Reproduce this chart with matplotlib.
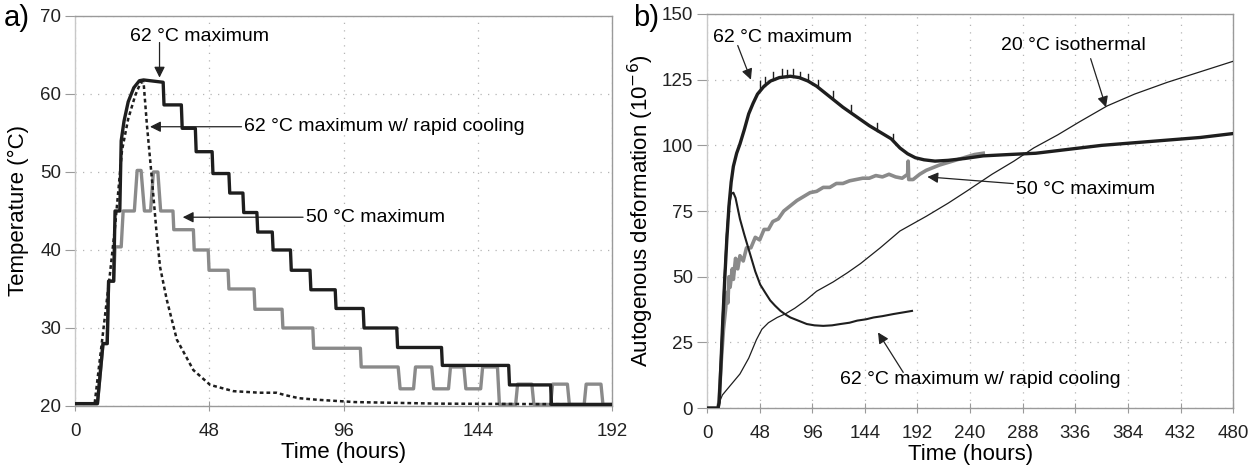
import numpy as np
import matplotlib
matplotlib.use("Agg")
import matplotlib.pyplot as plt

plt.rcParams['font.family'] = ['Liberation Sans', 'DejaVu Sans']

# ---- panel a) temperature histories (time h, temperature C) ----
temp_62 = [(0, 20.3), (8, 20.3), (10, 28), (11.5, 28), (12, 36), (13.8, 36), (14.3, 45), (16.0, 45),
           (16.5, 54), (17.5, 56.5), (19, 59), (21, 60.8), (23, 61.7), (24.5, 61.8), (31.5, 61.5),
           (31.8, 58.6), (38, 58.6), (38.3, 55.6), (43, 55.6), (43.3, 52.6), (49, 52.6), (49.3, 49.8),
           (55, 49.8), (55.3, 47.3), (60, 47.3), (60.3, 44.8), (65, 44.8), (65.3, 42.3), (70.5, 42.3),
           (70.8, 40), (77, 40), (77.3, 37.4), (84, 37.4), (84.3, 34.9), (93, 34.9), (93.3, 32.5),
           (103, 32.5), (103.3, 30), (115, 30), (115.3, 27.5), (131, 27.5), (131.3, 25.2), (155, 25.2),
           (155.3, 22.7), (170, 22.7), (170.3, 20.2), (192, 20.2)]

temp_62_rapid = [(0, 20.3), (7, 20.3), (9.7, 28.5), (12.5, 37), (14.3, 43), (16.8, 52.8), (19, 56.8),
                 (21.5, 59.8), (23.5, 61.5), (24.5, 61.5), (25.7, 56), (27.4, 49.4), (29.2, 42),
                 (30.4, 37.8), (32.8, 33.6), (36.4, 28.5), (42.3, 24.6), (48.3, 22.7), (56.6, 21.9),
                 (66, 21.7), (72, 21.7), (75, 21.4), (80, 21.0), (86.5, 20.8), (100, 20.5), (130, 20.3),
                 (192, 20.2)]

temp_50 = [(0, 20.3), (8, 20.3), (10, 28), (11.5, 28), (12, 36), (13.8, 36), (14.3, 40.4), (16.5, 40.4),
           (17.2, 45), (21.2, 45), (22.2, 50.2), (23.6, 50.2), (24.8, 45), (27.0, 45), (28.0, 50),
           (29.6, 50), (30.6, 45), (35, 45), (35.3, 42.6), (42.3, 42.6), (42.6, 40), (47.6, 40),
           (47.9, 37.4), (54.7, 37.4), (55, 35), (64, 35), (64.3, 32.4), (74, 32.4), (74.3, 30), (85, 30),
           (85.3, 27.4), (102, 27.4), (102.3, 25), (115.5, 25), (116.2, 22.2), (121, 22.2), (121.7, 25),
           (127.5, 25), (128.2, 22.2), (133.5, 22.2), (134.2, 25), (139, 25), (139.7, 22.2), (145, 22.2),
           (145.7, 25), (151, 25), (151.7, 20.2), (157.5, 20.2), (158.2, 22.8), (163.3, 22.8), (164, 20.2),
           (170, 20.2), (170.7, 22.8), (176, 22.8), (176.7, 20.2), (182, 20.2), (182.7, 22.8), (188, 22.8),
           (188.7, 20.2), (192, 20.2)]

# ---- panel b) autogenous deformation (time h, 1e-6) ----
def_62 = [(0, 0), (10, 0), (11, 2), (12.5, 15), (14, 30), (16, 48), (18, 64), (20, 77), (22, 86), (24, 92),
          (27, 97), (30, 100.5), (34, 106), (38, 112), (42, 116), (46, 119.5), (52, 122.5), (58, 124.5),
          (66, 125.8), (76, 126.3), (84, 125.8), (92, 124.5), (100, 122.5), (112, 118.5), (124, 114.5),
          (136, 111), (148, 107.5), (160, 104.5), (168, 102.5), (176, 99), (183, 96.8), (190, 95.3),
          (198, 94.5), (208, 94), (220, 94.3), (235, 95), (252, 96), (275, 96.5), (300, 97), (330, 98.5),
          (360, 100), (390, 101), (420, 102), (450, 103), (480, 104.5)]
# short upward spikes on the 62 C curve: (time, bottom, top)
def_62_spikes = [(48.5, 121, 124.5), (53, 122.7, 126), (60.4, 124.8, 128), (68.6, 125.9, 129),
                 (73, 126.2, 128.5), (78.6, 126.2, 129), (85, 125.7, 128), (92, 124.5, 127),
                 (101, 122.3, 125), (115, 117.5, 120.5), (131, 112.5, 115.5), (155.4, 105.5, 108.5),
                 (170, 101.8, 104.5)]

def_50 = [(0, 0), (10, 0), (11, 3), (13, 18), (15, 30), (17, 38), (18, 44), (19, 40), (20, 50), (21, 46),
          (23, 53), (24, 49), (26, 57), (28, 53), (30, 58), (33, 56), (36, 61), (40, 61), (44, 65), (48, 64),
          (52, 68), (56, 68), (60, 71), (65, 72), (70, 75), (76, 77), (82, 79), (88, 80.5), (94, 82),
          (100, 82.5), (106, 84), (112, 84), (118, 85.5), (124, 85.5), (130, 86.5), (136, 87), (142, 87.5),
          (148, 87.5), (154, 88.5), (160, 88), (166, 89), (172, 88), (178, 87.5), (183, 89), (183.5, 94),
          (184, 87), (188, 87), (194, 89), (200, 90.5), (206, 91.5), (212, 92.5), (220, 93.5), (228, 94.5),
          (236, 95.5), (244, 96.5), (252, 97)]

def_62_rapid = [(0, 0), (10, 0), (11, 2), (12.5, 15), (14, 32), (16, 50), (18, 66), (20, 77), (22, 81.5),
                (24, 82), (26, 80), (28, 76), (30, 72), (34, 66), (39, 59), (44, 52), (48.5, 47), (53, 44),
                (57.6, 41), (62, 39), (67, 37), (72, 35.5), (76, 34.5), (82, 33.5), (91, 32), (98, 31.5),
                (106, 31.3), (114, 31.5), (121.6, 32), (130, 32.5), (137, 33.3), (145, 33.8), (152, 34.5),
                (160, 35), (170, 35.8), (180, 36.5), (187, 37)]

def_20_iso = [(0, 0), (10, 0), (11, 2), (14, 5), (20, 8), (30, 13), (38, 19), (45, 26), (50, 30),
              (56, 32.5), (64, 34.5), (72, 36), (80, 38), (90, 41), (100, 44.5), (115, 48), (128, 51.5),
              (140, 55), (158, 61), (176, 67.4), (200, 73), (220, 78), (237, 82.6), (260, 89), (280, 94),
              (298, 99), (320, 104), (340, 109), (365, 115), (390, 119.5), (420, 124), (450, 128),
              (480, 132)]

DARK = "#1e1e1e"
GREY = "#8a8a8a"
SPINE = "#9a9a9a"

fig = plt.figure(figsize=(12.57, 4.74), dpi=100)
ax1 = fig.add_axes([0.0597, 0.1435, 0.4273, 0.8228])
ax2 = fig.add_axes([0.5625, 0.139, 0.4185, 0.8315])


def style(ax):
    for s in ax.spines.values():
        s.set_color(SPINE)
        s.set_linewidth(1.0)
    ax.spines['left'].set_color("#c8c8c8")
    ax.tick_params(axis='y', direction='out', length=7, color=SPINE, labelsize=13.5, pad=3,
                   labelcolor="#222222")
    ax.tick_params(axis='x', direction='inout', length=7, color=SPINE, labelsize=13.5, pad=9,
                   labelcolor="#222222")
    ax.grid(True, color="#b5b5b5", linestyle=(0, (1, 5)), linewidth=0.9)
    ax.set_axisbelow(True)


def xy(pairs):
    t, v = zip(*pairs)
    return np.array(t), np.array(v)


arrow = dict(arrowstyle='-|>', color="#222222", lw=0.9, mutation_scale=16, shrinkA=0, shrinkB=0)

# ---- panel a ----
style(ax1)
ax1.plot(*xy(temp_50), color=GREY, lw=2.4, zorder=3)
ax1.plot(*xy(temp_62), color=DARK, lw=2.4, zorder=4)
ax1.plot(*xy(temp_62_rapid), color=DARK, lw=1.8, linestyle=(0, (1.5, 1.2)), zorder=5)
ax1.set_xlim(0, 192)
ax1.set_ylim(20, 70)
ax1.set_xticks([0, 48, 96, 144, 192])
ax1.set_yticks([20, 30, 40, 50, 60, 70])
ax1.set_xlabel("Time (hours)", fontsize=16, labelpad=1)
ax1.set_ylabel("Temperature (°C)", fontsize=16, labelpad=8)

ax1.text(19.5, 67.4, "62 °C maximum", fontsize=14, ha='left', va='center')
ax1.annotate("", xy=(30.2, 62.1), xytext=(30.2, 66.6), arrowprops=arrow)
ax1.annotate("62 °C maximum w/ rapid cooling", xy=(26.8, 55.8), xytext=(60.5, 55.8), fontsize=14,
             ha='left', va='center', arrowprops=arrow)
ax1.annotate("50 °C maximum", xy=(38.5, 44.2), xytext=(82.5, 44.2), fontsize=14, ha='left',
             va='center', arrowprops=arrow)
fig.text(0.003, 0.962, "a)", fontsize=21, va='center', ha='left')

# ---- panel b ----
style(ax2)
ax2.plot(*xy(def_20_iso), color=DARK, lw=0.9, zorder=3)
ax2.plot(*xy(def_50), color=GREY, lw=2.6, zorder=4)
ax2.plot(*xy(def_62), color=DARK, lw=2.4, zorder=5)
for t, lo, hi in def_62_spikes:
    ax2.plot([t, t], [lo, hi], color=DARK, lw=1.0, zorder=5)
ax2.plot(*xy(def_62_rapid), color=DARK, lw=1.5, zorder=6)
ax2.set_xlim(0, 480)
ax2.set_ylim(0, 150)
ax2.set_xticks(range(0, 481, 48))
ax2.set_yticks(range(0, 151, 25))
ax2.set_xlabel("Time (hours)", fontsize=16, labelpad=1)
ax2.set_ylabel("Autogenous deformation (10$^{-6}$)", fontsize=16, labelpad=4)

ax2.text(5.5, 141, "62 °C maximum", fontsize=14, ha='left', va='center')
ax2.annotate("", xy=(40, 125), xytext=(28, 138), arrowprops=arrow)
ax2.text(268, 138, "20 °C isothermal", fontsize=14, ha='left', va='center')
ax2.annotate("", xy=(364, 114.5), xytext=(350, 133), arrowprops=arrow)
ax2.annotate("50 °C maximum", xy=(201, 88), xytext=(282, 83.3), fontsize=14, ha='left',
             va='center', arrowprops=arrow)
ax2.annotate("", xy=(156, 28.8), xytext=(179, 13.6), arrowprops=arrow)
ax2.text(121.5, 11, "62 °C maximum w/ rapid cooling", fontsize=14, ha='left', va='center')
fig.text(0.504, 0.962, "b)", fontsize=21, va='center', ha='left')

fig.savefig("out.png", dpi=100)
